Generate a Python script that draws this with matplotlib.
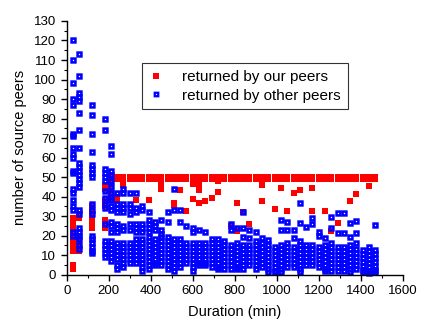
import numpy as np
import matplotlib
matplotlib.use("Agg")
import matplotlib.pyplot as plt
from matplotlib.path import Path
from matplotlib.ticker import MultipleLocator

plt.rcParams["font.family"] = ["Liberation Sans", "DejaVu Sans"]

# Duration of each session bin (min)
durations = [30, 60, 120, 180, 210, 240, 270, 300, 330, 360, 390, 420, 450,
             480, 510, 540, 570, 600, 630, 660, 690, 720, 750, 780, 810, 840,
             870, 900, 930, 960, 990, 1020, 1050, 1080, 1110, 1140, 1170, 1200,
             1230, 1260, 1290, 1320, 1350, 1380, 1410, 1440, 1470]

# source peers returned by our peers, one list per duration
ours = [
    [29, 27, 25, 23, 21, 19, 17, 15, 13, 12, 5, 3],
    [31, 29, 18, 16, 14, 12],
    [35, 33, 30, 28, 26, 24],
    [46, 44, 38, 35, 28, 26, 24],
    [50, 48, 46, 43, 40, 38],
    [50, 49, 40, 38],
    [50, 49, 46],
    [50, 49],
    [50, 49, 38],
    [50, 49],
    [50, 49, 38],
    [50, 49],
    [50, 49, 46, 44],
    [50, 49],
    [50, 49, 36.5, 35.5],
    [50, 49, 43.5],
    [50, 49, 32.5],
    [50, 49, 46.5, 38.5],
    [50, 49, 46, 43.5, 36.5],
    [50, 49, 37.5],
    [50, 49, 39.5],
    [50, 49, 48, 42.5],
    [50, 49],
    [50, 49, 25],
    [50, 49, 36.5, 22.5],
    [50, 49, 32],
    [50, 49, 26],
    [50, 49],
    [50, 49, 46, 37.5],
    [50, 49],
    [50, 49, 33.5],
    [50, 49, 44.5],
    [50, 49, 32.5],
    [50, 49, 42],
    [50, 49, 43.5],
    [50, 49],
    [50, 49, 44.5, 32.5],
    [50, 49],
    [50, 49, 32.5],
    [50, 49, 22.5],
    [50, 49, 26.5],
    [50, 49],
    [50, 49, 37.5],
    [50, 49, 41.5],
    [50, 49],
    [50, 49, 45.5],
    [50, 49],
]

# source peers returned by other peers, one list per duration
others = [
    [120, 110, 98, 90, 87, 72, 71, 65, 62, 60, 53, 52, 44, 42, 38, 35, 33, 22, 20],
    [113, 102, 93, 91, 89, 83, 74, 65, 57, 55, 53, 51, 49, 47, 45, 33, 31, 24, 22, 20, 18, 15, 13],
    [87, 82, 72, 63, 56, 54, 52, 50, 36, 33, 31, 20, 18, 16, 14, 12, 11],
    [80, 74, 54, 52, 50, 48, 43, 39, 36, 34, 26, 17, 15, 13, 11, 9],
    [66, 62, 53, 51, 48, 45, 42, 40, 38, 35, 33, 27, 25, 22, 17, 15, 13, 11, 9, 7],
    [42, 36, 34, 32, 26, 24, 22, 16, 14, 12, 10, 8, 5, 3],
    [44, 42, 36, 34, 32, 25, 23, 16, 14, 12, 10, 8, 6, 4],
    [42, 36, 34, 31, 26, 23, 16, 14, 12, 10, 8, 6],
    [42, 34, 32, 26, 24, 22, 18, 16, 14, 12, 10, 8, 6],
    [35, 33, 26, 24, 22, 18, 16, 14, 12, 10, 8, 6, 4, 2],
    [32, 28, 26, 24, 22, 19, 17, 15, 13, 11, 9, 7, 5, 3],
    [27, 25, 23, 18, 16, 14, 12, 10, 8, 6, 5],
    [28, 23, 21, 19, 17, 15, 13, 11, 9, 7, 5],
    [32, 27, 19, 17, 15, 13, 11, 9, 7, 5, 3],
    [44, 33, 18, 16, 14, 12, 10, 8, 6, 4, 2],
    [33, 27, 18, 16, 14, 12, 10, 8, 6, 4],
    [25, 16, 14, 12, 10, 8, 6],
    [24, 22, 16, 14, 12, 10, 8, 6, 4, 2],
    [23, 16, 14, 12, 10, 8, 6, 5],
    [22, 16, 14, 12, 10, 8, 6, 5],
    [18, 16, 14, 12, 10, 8, 6, 4],
    [18, 16, 14, 12, 10, 8, 6, 4, 3],
    [17, 15, 13, 11, 9, 7, 5, 3],
    [26, 23, 15, 13, 11, 9, 7, 5, 3],
    [24, 16, 14, 12, 10, 8, 6, 4, 3],
    [32, 24, 19, 15, 13, 11, 9, 7, 5, 3],
    [23, 18.5, 15, 13, 11, 9, 7, 5],
    [22, 17, 15, 13, 11, 9, 7, 5, 3],
    [18.5, 16, 14, 12, 10, 8, 6, 4],
    [17.5, 15, 13, 11, 9, 7, 5, 3, 1.5],
    [14, 12, 10, 8, 6, 4, 2, 1.5],
    [28, 23, 15, 13, 11, 9, 7, 5, 3, 1.5],
    [27, 23, 16, 14, 12, 10, 8, 6, 4],
    [23, 18.5, 14, 12, 10, 8, 6, 4],
    [36.5, 26.5, 17, 15, 13, 11, 9, 7, 5, 3, 1.5],
    [24.5, 15, 13, 11, 9, 7, 5],
    [29, 26, 15, 13, 11, 9, 7, 5],
    [22, 20, 14, 12, 10, 8, 6, 4],
    [18.5, 15, 13, 11, 9, 7, 5, 3, 2],
    [29.5, 24, 16, 14, 12, 10, 8, 6, 4, 2],
    [31.5, 21.5, 14, 12, 10, 8, 6, 4, 2],
    [31.5, 21.5, 14, 12, 10, 8, 6, 4, 2],
    [26.5, 19.5, 15, 13, 11, 9, 7, 5, 3, 1.5],
    [27.5, 21.5, 16, 13, 11, 9, 7, 5, 3],
    [12.5, 10.5, 8.5, 6.5, 4.5, 2.5, 1.5],
    [14, 12, 10, 8, 6, 4, 2, 1],
    [25.5, 12.5, 10.5, 8.5, 6.5, 4.5, 2.5, 1.5],
]


def flatten(cols):
    xs, ys = [], []
    for d, vals in zip(durations, cols):
        xs += [d] * len(vals)
        ys += vals
    return xs, ys


# blue square with a small hole punched in the middle
t = np.linspace(0, 2 * np.pi, 13)[:-1]
sq = [(-1, -1), (1, -1), (1, 1), (-1, 1)]
hole = list(zip(0.22 * np.cos(-t), 0.22 * np.sin(-t)))
verts, codes = [], []
for part in (sq, hole):
    verts += part + [part[0]]
    codes += [Path.MOVETO] + [Path.LINETO] * (len(part) - 1) + [Path.CLOSEPOLY]
holed_square = Path(verts, codes)

fig = plt.figure(figsize=(4.21, 3.23), dpi=100)
ax = fig.add_axes([0.1585, 0.150, 0.798, 0.785])

rx, ry = flatten(ours)
bx, by = flatten(others)
ax.plot(rx, ry, linestyle="none", marker="s", markersize=5, color="#ff0000",
        markeredgewidth=0, label="returned by our peers", clip_on=False)
ax.plot(bx, by, linestyle="none", marker=holed_square, markersize=4.6,
        color="#0000ff", markeredgewidth=0, label="returned by other peers",
        clip_on=False)

ax.set_xlim(0, 1600)
ax.set_ylim(0, 130)
ax.xaxis.set_major_locator(MultipleLocator(200))
ax.xaxis.set_minor_locator(MultipleLocator(100))
ax.yaxis.set_major_locator(MultipleLocator(10))
ax.yaxis.set_minor_locator(MultipleLocator(5))
ax.spines["top"].set_visible(False)
ax.spines["right"].set_visible(False)
for s in ("left", "bottom"):
    ax.spines[s].set_linewidth(1.0)
ax.tick_params(which="major", direction="out", length=4, width=1.0, labelsize=9.5)
ax.tick_params(which="minor", direction="out", length=2, width=0.8)

ax.set_xlabel("Duration (min)", fontsize=10.5, labelpad=6)
ax.set_ylabel("number of source peers", fontsize=10.5, labelpad=5)

leg = ax.legend(loc="upper left", bbox_to_anchor=(0.224, 0.834), fontsize=11,
                frameon=True, fancybox=False, edgecolor="black",
                handlelength=1.0, handletextpad=1.2, borderpad=0.45,
                borderaxespad=0, labelspacing=0.3, markerscale=0.9)
leg.get_frame().set_linewidth(0.8)

fig.savefig("out.png", dpi=100)
